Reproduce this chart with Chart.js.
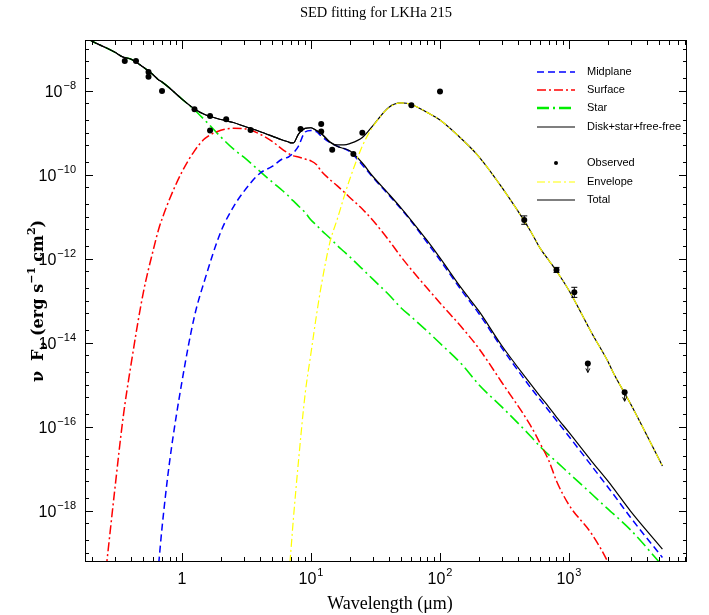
<!DOCTYPE html>
<html>
<head>
<meta charset="utf-8">
<title>SED fitting for LKHa 215</title>
<script src="https://cdn.jsdelivr.net/npm/chart.js@4/dist/chart.umd.min.js"></script>
<style>
  body { margin: 0; background: #fff; }
  canvas { display: block; }
</style>
</head>
<body>
<canvas id="sed" width="709" height="615"></canvas>
<script>
const lam = [0.18, 0.2, 0.25, 0.3, 0.35, 0.4, 0.5, 0.6, 0.66, 0.7, 0.8, 1, 1.25, 1.5, 2, 2.5, 3, 4, 5, 6,
  6.7, 7, 7.3, 8, 9, 10, 11, 12, 14, 16, 18, 20, 25, 30, 40, 50, 60, 80, 100, 150,
  200, 300, 500, 600, 700, 800, 1000, 1500, 2000, 2200, 3000, 5300];

// model components, nu F_nu (erg s-1 cm-2), null = not on the plot
const midplane = [null, null, null, null, null, null, null, null, 5.5e-20, 3.9e-19, 1.41e-17, 1.2e-15, 4.3e-14, 3.1e-13, 4.4e-12, 1.7e-11, 3.9e-11, 1.07e-10, 1.57e-10, 2.37e-10,
  2.64e-10, 2.94e-10, 3.3e-10, 4.8e-10, 1.04e-9, 1.13e-9, 1.06e-9, 8.3e-10, 5.8e-10, 4.8e-10, 4.2e-10, 3.56e-10, 1.7e-10, 8.8e-11, 3.3e-11, 1.52e-11, 7.7e-12, 2.37e-12, 9.3e-13, 1.6e-13,
  4.95e-14, 7.7e-15, 8.8e-16, 4.3e-16, 2.37e-16, 1.4e-16, 5.85e-17, 1.16e-17, 3.66e-18, 2.5e-18, 6.9e-19, 7.7e-20];
const surface = [null, null, 1.7e-20, 2.83e-18, 1.71e-16, 2.68e-15, 1.5e-13, 1.66e-12, 5.1e-12, 8.8e-12, 2.6e-11, 1.17e-10, 3.7e-10, 7.2e-10, 1.14e-9, 1.27e-9, 1.25e-9, 9.3e-10, 6.2e-10, 4.0e-10,
  3.2e-10, 2.94e-10, 2.8e-10, 2.64e-10, 2.37e-10, 2.12e-10, 1.75e-10, 1.22e-10, 7.7e-11, 5.4e-11, 3.9e-11, 2.87e-11, 1.52e-11, 8.3e-12, 2.79e-12, 1.1e-12, 5.5e-13, 1.95e-13, 8.8e-14, 2.18e-14,
  7.3e-15, 1.16e-15, 1.1e-16, 3.9e-17, 1.52e-17, 5.1e-18, 1.37e-18, 2.79e-19, 6.0e-20, 3.0e-20, null, null];
const star = [1.9e-7, 1.52e-7, 1.1e-7, 8.3e-8, 6.3e-8, 5.7e-8, 3.66e-8, 2.37e-8, 1.8e-8, 1.61e-8, 1.16e-8, 6.3e-9, 3.47e-9, 2.0e-9, 7.9e-10, 4.1e-10, 2.64e-10, 1.22e-10, 6.7e-11, 4.2e-11,
  3.1e-11, 2.64e-11, 2.37e-11, 1.8e-11, 1.26e-11, 8.3e-12, 6.3e-12, 4.8e-12, 3.1e-12, 2.06e-12, 1.48e-12, 1.1e-12, 5.7e-13, 3.3e-13, 1.4e-13, 6.7e-14, 4.1e-14, 1.85e-14, 9.7e-15, 2.9e-15,
  1.0e-15, 3.0e-16, 6.1e-17, 3.3e-17, 2.1e-17, 1.46e-17, 7.8e-18, 2.5e-18, 1.1e-18, 8.5e-19, 3.5e-19, 4.9e-20];
const diskStarFF = [1.9e-7, 1.52e-7, 1.1e-7, 8.3e-8, 6.3e-8, 5.7e-8, 3.66e-8, 2.37e-8, 1.8e-8, 1.61e-8, 1.16e-8, 6.3e-9, 3.67e-9, 2.71e-9, 2.06e-9, 1.75e-9, 1.44e-9, 1.07e-9, 8.3e-10, 6.7e-10,
  6.0e-10, 5.7e-10, 5.7e-10, 9.3e-10, 1.27e-9, 1.31e-9, 1.13e-9, 9.6e-10, 6.0e-10, 4.7e-10, 4.2e-10, 3.7e-10, 1.9e-10, 9.3e-11, 3.5e-11, 1.6e-11, 8.1e-12, 2.64e-12, 1.04e-12, 1.8e-13,
  5.7e-14, 8.7e-15, 1.07e-15, 5.2e-16, 2.9e-16, 1.7e-16, 7.3e-17, 1.5e-17, 5.1e-18, 3.5e-18, 9.8e-19, 1.22e-19];
const envelope = [null, null, null, null, null, null, null, null, null, null, null, null, null, null, null, null, null, null, null, null,
  2.4e-20, 1.22e-19, 6.3e-19, 1.52e-17, 5.9e-16, 5.7e-15, 4.3e-14, 2.24e-13, 2.43e-12, 8.8e-12, 2.91e-11, 7.9e-11, 4.8e-10, 1.35e-9, 3.9e-9, 5.1e-9, 4.7e-9, 3.0e-9, 2.0e-9, 6.7e-10,
  2.7e-10, 5.1e-11, 4.7e-12, 1.73e-12, 9.0e-13, 5.1e-13, 1.75e-13, 1.7e-14, 3.6e-15, 1.96e-15, 3.5e-16, 1.16e-17];
const total = [1.9e-7, 1.52e-7, 1.1e-7, 8.3e-8, 6.3e-8, 5.7e-8, 3.66e-8, 2.37e-8, 1.8e-8, 1.61e-8, 1.16e-8, 6.3e-9, 3.67e-9, 2.71e-9, 2.06e-9, 1.75e-9, 1.44e-9, 1.07e-9, 8.3e-10, 6.7e-10,
  6.0e-10, 5.7e-10, 5.7e-10, 9.3e-10, 1.27e-9, 1.31e-9, 1.13e-9, 9.6e-10, 6.0e-10, 5.1e-10, 5.1e-10, 5.5e-10, 7.7e-10, 1.44e-9, 4.0e-9, 5.1e-9, 4.7e-9, 3.0e-9, 2.0e-9, 6.7e-10,
  2.7e-10, 5.1e-11, 4.7e-12, 1.73e-12, 9.0e-13, 5.1e-13, 1.75e-13, 1.7e-14, 3.6e-15, 1.96e-15, 3.5e-16, 1.16e-17];

// photometry
const obsLam = [0.36, 0.44, 0.55, 0.55, 0.70, 1.25, 1.65, 1.65, 2.2, 3.4, 8.3, 12, 12, 14.6, 21.3, 25, 60, 100, 450, 800, 1100, 1400, 2700];
const obsFlux = [5.1e-8, 5.1e-8, 2.8e-8, 2.15e-8, 9.8e-9, 3.6e-9, 2.5e-9, 1.12e-9, 2.08e-9, 1.16e-9, 1.23e-9, 1.61e-9, 1.06e-9, 3.9e-10, 3.1e-10, 1.0e-9, 4.5e-9, 9.5e-9, 8.3e-12, 5.4e-13, 1.58e-13, 3.2e-15, 6.6e-16];
const obsErr = [0, 0, 0, 0, 0, 0, 0, 0, 0, 0, 0, 0, 0, 0, 0, 0, 0, 0, 0.1, 0.06, 0.12, 0, 0]; // half length in dex
const obsUpper = [false, false, false, false, false, false, false, false, false, false, false, false, false, false, false, false, false, false, false, false, false, true, true];

// tick labels (powers of ten)
const xTickExps = [0, 1, 2, 3];
const yTickExps = [-18, -16, -14, -12, -10, -8];

const toPoints = (xs, ys) => xs.map((x, i) => ({ x: x, y: ys[i] })).filter(p => p.y != null);

function lineSet(label, vals, color, dash, width, order) {
  return {
    label: label,
    data: toPoints(lam, vals),
    showLine: true,
    borderColor: color,
    backgroundColor: color,
    borderWidth: width,
    borderDash: dash,
    pointRadius: 0,
    cubicInterpolationMode: 'monotone',
    order: order
  };
}

const datasets = [
  lineSet('Midplane', midplane, '#0000ff', [7, 4], 1.5, 4),
  lineSet('Surface', surface, '#ff0000', [9, 3, 2, 3], 1.5, 5),
  lineSet('Star', star, '#00ee00', [12, 4, 2, 4], 1.6, 6),
  lineSet('Disk+star+free-free', diskStarFF, '#000000', [], 1.2, 3),
  {
    label: 'Observed',
    data: toPoints(obsLam, obsFlux),
    showLine: false,
    pointRadius: 3,
    pointBackgroundColor: '#000',
    pointBorderColor: '#000',
    pointBorderWidth: 0,
    order: 0
  },
  lineSet('Envelope', envelope, '#ffff00', [8, 3, 2, 3], 1.2, 1),
  lineSet('Total', total, '#000000', [], 1.2, 2)
];

const SANS = '"Liberation Sans", Arial, sans-serif';
const SERIF = '"Liberation Serif", "Times New Roman", serif';

// "10" with a raised exponent (or plain "1")
function drawPower(ctx, exp, x, y, align) {
  const base = exp === 0 ? '1' : '10';
  const sup = exp === 0 ? '' : (exp < 0 ? '\u2212' + (-exp) : String(exp));
  ctx.font = '16px ' + SANS;
  const wb = ctx.measureText(base).width;
  ctx.font = '11px ' + SANS;
  const ws = sup ? ctx.measureText(sup).width + 1 : 0;
  const x0 = align === 'right' ? x - wb - ws : x - (wb + ws) / 2;
  ctx.textAlign = 'left';
  ctx.textBaseline = 'alphabetic';
  ctx.font = '16px ' + SANS;
  ctx.fillText(base, x0, y);
  if (sup) {
    ctx.font = '11px ' + SANS;
    ctx.fillText(sup, x0 + wb + 1, y - 8);
  }
}

function drawYTitle(ctx, cx, cy) {
  // [text, size, shift, gap before]
  const parts = [['\u03bd', 16, 0, 0], ['F', 16, 0, 10], ['\u03bd', 11, 4, 0], ['(erg', 16, 0, 6],
    ['s', 16, 0, 6], ['\u22121', 11, -8, 0], ['cm', 16, 0, 5], ['2', 11, -8, 0], [')', 16, 0, 0]];
  let w = 0;
  const widths = parts.map(p => {
    ctx.font = 'bold ' + p[1] + 'px "DejaVu Serif", serif';
    const m = ctx.measureText(p[0]).width;
    w += m + p[3];
    return m;
  });
  ctx.save();
  ctx.translate(cx, cy);
  ctx.rotate(-Math.PI / 2);
  ctx.textAlign = 'left';
  ctx.textBaseline = 'alphabetic';
  let x = -w / 2;
  parts.forEach((p, i) => {
    x += p[3];
    ctx.font = 'bold ' + p[1] + 'px "DejaVu Serif", serif';
    ctx.fillText(p[0], x, 5 + p[2]);
    x += widths[i];
  });
  ctx.restore();
}

const sedDecor = {
  id: 'sedDecor',
  afterDatasetsDraw(chart) {
    const { ctx, scales: { x, y } } = chart;
    ctx.save();
    ctx.strokeStyle = '#000';
    ctx.lineWidth = 1;
    ctx.beginPath();
    obsLam.forEach((l, i) => {
      const px = x.getPixelForValue(l);
      if (obsErr[i] > 0) {
        const y1 = y.getPixelForValue(obsFlux[i] * Math.pow(10, obsErr[i]));
        const y2 = y.getPixelForValue(obsFlux[i] / Math.pow(10, obsErr[i]));
        ctx.moveTo(px, y1); ctx.lineTo(px, y2);
        ctx.moveTo(px - 3, y1); ctx.lineTo(px + 3, y1);
        ctx.moveTo(px - 3, y2); ctx.lineTo(px + 3, y2);
      }
      if (obsUpper[i]) {
        const py = y.getPixelForValue(obsFlux[i]);
        ctx.moveTo(px, py); ctx.lineTo(px, py + 9);
        ctx.moveTo(px - 2, py + 5); ctx.lineTo(px, py + 9); ctx.lineTo(px + 2, py + 5);
      }
    });
    ctx.stroke();
    ctx.restore();
  },
  afterDraw(chart) {
    const { ctx, chartArea: a, scales: { x, y } } = chart;
    ctx.save();
    ctx.strokeStyle = '#000';
    ctx.fillStyle = '#000';
    ctx.lineWidth = 1;
    ctx.setLineDash([]);
    ctx.strokeRect(a.left + 0.5, a.top + 0.5, a.right - a.left - 1, a.bottom - a.top - 1);

    // inward ticks on all four sides
    ctx.beginPath();
    for (let n = -1; n <= 3; n++) {
      for (let k = 1; k <= 9; k++) {
        const v = k * Math.pow(10, n);
        if (v < x.min || v > x.max) continue;
        const px = Math.round(x.getPixelForValue(v)) + 0.5;
        const len = k === 1 ? 9 : 5;
        ctx.moveTo(px, a.bottom); ctx.lineTo(px, a.bottom - len);
        ctx.moveTo(px, a.top); ctx.lineTo(px, a.top + len);
      }
    }
    for (let n = -20; n <= -7; n++) {
      [1, 2, 5].forEach(k => {
        const v = k * Math.pow(10, n);
        if (v < y.min || v > y.max) return;
        const py = Math.round(y.getPixelForValue(v)) + 0.5;
        const len = (k === 1 && n % 2 === 0) ? 8 : 4;
        ctx.moveTo(a.left, py); ctx.lineTo(a.left + len, py);
        ctx.moveTo(a.right, py); ctx.lineTo(a.right - len, py);
      });
    }
    ctx.stroke();

    xTickExps.forEach(e => drawPower(ctx, e, x.getPixelForValue(Math.pow(10, e)), a.bottom + 22, 'center'));
    yTickExps.forEach(e => drawPower(ctx, e, a.left - 9, y.getPixelForValue(Math.pow(10, e)) + 6, 'right'));

    // titles
    ctx.textAlign = 'center';
    ctx.textBaseline = 'alphabetic';
    ctx.font = '14.5px ' + SERIF;
    ctx.fillText('SED fitting for LKHa 215', 376, 17);
    ctx.font = '18px ' + SERIF;
    ctx.fillText('Wavelength (\u03bcm)', 390, 609);
    drawYTitle(ctx, 38, (a.top + a.bottom) / 2);

    // legend
    const rowsY = [72, 90, 108, 127, 163, 182, 200];
    chart.data.datasets.forEach((ds, i) => {
      const ry = rowsY[i];
      if (ds.showLine) {
        ctx.strokeStyle = ds.borderColor;
        ctx.lineWidth = ds.label === 'Star' ? 2.4 : ds.borderWidth;
        ctx.setLineDash(ds.borderDash);
        ctx.beginPath();
        ctx.moveTo(537, ry); ctx.lineTo(575, ry);
        ctx.stroke();
      } else {
        ctx.beginPath();
        ctx.arc(556, ry, 2, 0, Math.PI * 2);
        ctx.fill();
      }
      ctx.setLineDash([]);
      ctx.font = '11px ' + SANS;
      ctx.textAlign = 'left';
      ctx.textBaseline = 'middle';
      ctx.fillText(ds.label, 587, ry);
    });
    ctx.restore();
  }
};

new Chart(document.getElementById('sed'), {
  type: 'scatter',
  data: { datasets: datasets },
  options: {
    responsive: false,
    animation: false,
    layout: { padding: { left: 0, right: 22, top: 40, bottom: 0 } },
    scales: {
      x: {
        type: 'logarithmic',
        min: 0.177,
        max: 8220,
        ticks: { display: false },
        grid: { display: false },
        border: { display: false },
        afterFit(s) { s.height = 53; }
      },
      y: {
        type: 'logarithmic',
        min: 6.0e-20,
        max: 1.61e-7,
        ticks: { display: false },
        grid: { display: false },
        border: { display: false },
        afterFit(s) { s.width = 85; }
      }
    },
    plugins: {
      legend: { display: false },
      tooltip: { enabled: false },
      title: { display: false }
    }
  },
  plugins: [sedDecor]
});
</script>
</body>
</html>
